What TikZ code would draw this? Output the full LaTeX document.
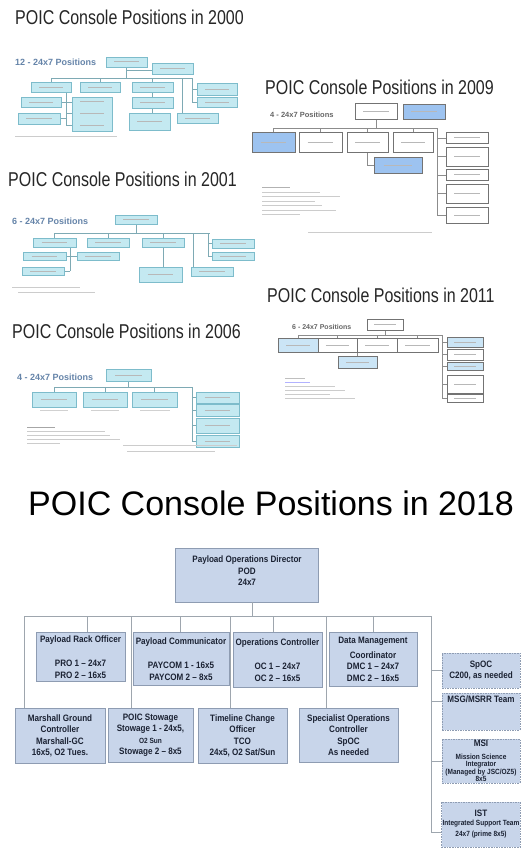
\documentclass[tikz,border=0pt]{standalone}
\usepackage{fontspec}
\setmainfont{Liberation Sans}
\newfontfamily\slidefont[FakeStretch=0.8]{Liberation Sans}
\newfontfamily\narrowfont[FakeStretch=0.87]{Liberation Sans}
\usetikzlibrary{calc}
\definecolor{boxfill}{HTML}{C8D5EA}
\definecolor{boxline}{HTML}{8E9CB2}
\definecolor{boxtext}{HTML}{1B2233}
\definecolor{wirecol}{HTML}{9EA6AE}
\definecolor{thumbfill}{HTML}{C4E9F1}
\definecolor{thumbline}{HTML}{7DBCCB}
\definecolor{blue09}{HTML}{9DC3F0}
\definecolor{blue11}{HTML}{CBE5F6}
\definecolor{postext}{HTML}{6584A9}
\newcommand{\minorsize}{\fontsize{7.5}{7.5}\selectfont}
\tikzset{
  slide/.style={anchor=base west, inner sep=0, text=black!85, font=\slidefont\fontsize{20}{20}\selectfont},
  headline/.style={anchor=base west, inner sep=0, text=black, font=\fontsize{34}{34}\selectfont},
  shifts/.style={anchor=west, inner sep=0, text=postext, font=\bfseries\fontsize{9}{9}\selectfont},
  shiftsgray/.style={anchor=west, inner sep=0, text=black!60, font=\bfseries\fontsize{7.5}{7.5}\selectfont},
  smudge/.style={draw=black!28, line width=1pt},
  blurtext/.style={path picture={\draw[smudge] ($(path picture bounding box.west)!0.2!(path picture bounding box.east)$) -- ($(path picture bounding box.west)!0.8!(path picture bounding box.east)$);}},
  thumb/.style={draw=thumbline, fill=thumbfill, line width=0.4pt, blurtext},
  oldwhite/.style={draw=black!55, fill=white, line width=0.4pt, blurtext},
  oldblue/.style={oldwhite, fill=blue09},
  paleblue/.style={oldwhite, fill=blue11},
  twire/.style={draw=thumbline!70!gray, line width=0.4pt},
  gwire/.style={draw=black!45, line width=0.4pt},
  box/.style={draw=boxline, line width=0.8pt, fill=boxfill, text=boxtext, align=center, anchor=north, inner sep=1pt, font=\narrowfont\bfseries\fontsize{9.3}{11.5}\selectfont},
  sidebox/.style={box, anchor=center, dash pattern=on 1.6pt off 1pt, minimum width=78},
  wire/.style={draw=wirecol, line width=0.6pt}
}
\begin{document}
\begin{tikzpicture}[x=1pt,y=-1pt]
\useasboundingbox (0,0) rectangle (526,859);
\fill[white] (0,0) rectangle (526,859);

%%% 2000
\node[slide] (t2000) at (15,25) {POIC Console Positions in 2000};
\node[shifts] (p2000) at (15,62) {12 - 24x7 Positions};
\draw[twire] (126.5,67) -- (126.5,78) (126.5,70) -- (152,70);
\draw[twire] (51,78) -- (192,78);
\draw[twire] (51,78) -- (51,82) (100,78) -- (100,82) (152.5,78) -- (152.5,82);
\draw[twire] (182,78) -- (182,113);
\draw[twire] (192,78) -- (192,102) (192,89) -- (197,89) (192,102) -- (197,102);
\draw[twire] (66,92) -- (66,125) (61,102) -- (72,102) (60,118) -- (66,118) (66,113) -- (72,113) (66,125) -- (72,125);
\draw[twire] (152.5,92) -- (152.5,113);
\draw[thumb] (106,57) rectangle (147,67);
\draw[thumb] (152,63) rectangle (193,74);
\draw[thumb] (31,82) rectangle (71,92);
\draw[thumb] (80,82) rectangle (120,92);
\draw[thumb] (132,82) rectangle (173,92);
\draw[thumb] (197,83) rectangle (237,95);
\draw[thumb] (197,97) rectangle (237,107);
\draw[thumb] (21,97) rectangle (61,107);
\draw[thumb] (18,113) rectangle (60,124);
\draw[thumb, path picture={}] (72,97) rectangle (112,131);
\draw[smudge] (80,101) -- (104,101) (80,113) -- (104,113) (80,125) -- (104,125);
\draw[thumb] (132,97) rectangle (173,108);
\draw[thumb] (129,113) rectangle (170,130);
\draw[thumb] (177,113) rectangle (218,123);
\draw[smudge, black!20] (15,136) -- (117,136);

%%% 2001
\node[slide] (t2001) at (8,186) {POIC Console Positions in 2001};
\node[shifts] (p2001) at (12,221) {6 - 24x7 Positions};
\draw[twire] (136,224) -- (136,233);
\draw[twire] (54.5,233) -- (210,233);
\draw[twire] (54.5,233) -- (54.5,238) (108,233) -- (108,238) (163,233) -- (163,238);
\draw[twire] (193,233) -- (193,267);
\draw[twire] (208,233) -- (208,256) (208,243) -- (212,243) (208,256) -- (212,256);
\draw[twire] (70,247) -- (70,271) (66,256) -- (77,256) (64,271) -- (70,271);
\draw[twire] (163,247) -- (163,267);
\draw[thumb] (115,215) rectangle (157,224);
\draw[thumb] (33,238) rectangle (76,247);
\draw[thumb] (87,238) rectangle (129,247);
\draw[thumb] (142,238) rectangle (184,247);
\draw[thumb] (212,239) rectangle (254,248);
\draw[thumb] (212,252) rectangle (254,260);
\draw[thumb] (23,252) rectangle (66,260);
\draw[thumb] (22,267) rectangle (64,275);
\draw[thumb] (77,252) rectangle (119,260);
\draw[thumb] (139,267) rectangle (182,282);
\draw[thumb] (191,267) rectangle (233,276);
\draw[smudge, black!20] (12,287) -- (80,287) (18,292) -- (95,292);

%%% 2006
\node[slide] (t2006) at (12,338) {POIC Console Positions in 2006};
\node[shifts] (p2006) at (17,377) {4 - 24x7 Positions};
\draw[twire] (128.5,381) -- (128.5,387);
\draw[twire] (54,387) -- (192,387);
\draw[twire] (54,387) -- (54,392) (105,387) -- (105,392) (154.5,387) -- (154.5,392);
\draw[twire] (192,387) -- (192,441);
\foreach \y in {397,410,425,441} \draw[twire] (192,\y) -- (196,\y);
\draw[thumb] (106,369) rectangle (151,381);
\draw[thumb] (32,392) rectangle (76,407);
\draw[thumb] (83,392) rectangle (127,407);
\draw[thumb] (132,392) rectangle (177,407);
\draw[thumb] (196,392) rectangle (239,403);
\draw[thumb] (196,404) rectangle (239,416);
\draw[thumb] (196,418) rectangle (239,433);
\draw[thumb] (196,435) rectangle (239,447);
\draw[smudge, black!18] (40,410) -- (68,410) (91,410) -- (119,410) (140,410) -- (170,410);
\draw[smudge, black!35] (27,427) -- (55,427);
\draw[smudge, black!20] (27,431) -- (105,431) (27,435) -- (110,435) (27,439) -- (120,439) (27,443) -- (60,443);
\draw[smudge, black!20] (123,445) -- (237,445) (127,451) -- (215,451);

%%% 2009
\node[slide] (t2009) at (265,94) {POIC Console Positions in 2009};
\node[shiftsgray] (p2009) at (270,115) {4 - 24x7 Positions};
\draw[gwire] (376,119) -- (376,128);
\draw[gwire] (273.5,128) -- (437,128);
\draw[gwire] (273.5,128) -- (273.5,132) (320.5,128) -- (320.5,132) (367.5,128) -- (367.5,132) (413,128) -- (413,132);
\draw[gwire] (367.5,152) |- (374,165);
\draw[gwire] (437,128) -- (437,215);
\foreach \y in {138,156,175,193,215} \draw[gwire] (437,\y) -- (446,\y);
\draw[oldwhite] (355,103) rectangle (397,119);
\draw[oldblue] (403,104) rectangle (445,119);
\draw[oldblue] (252,132) rectangle (295,152);
\draw[oldwhite] (299,132) rectangle (342,152);
\draw[oldwhite] (347,132) rectangle (388,152);
\draw[oldwhite] (393,132) rectangle (433,152);
\draw[oldblue] (374,157) rectangle (422,173);
\draw[oldwhite] (446,132) rectangle (488,143);
\draw[oldwhite] (446,147) rectangle (488,166);
\draw[oldwhite] (446,169) rectangle (488,180);
\draw[oldwhite] (446,184) rectangle (488,203);
\draw[oldwhite] (446,207) rectangle (488,223);
\draw[smudge, black!30] (262,187) -- (290,187);
\draw[smudge, black!20] (262,192) -- (320,192) (262,196.5) -- (340,196.5) (262,201) -- (315,201) (262,205.5) -- (322,205.5) (262,210) -- (336,210) (262,214.5) -- (300,214.5);
\draw[smudge, black!20] (308,232) -- (432,232);

%%% 2011
\node[slide] (t2011) at (267,302) {POIC Console Positions in 2011};
\node[shiftsgray, font=\bfseries\fontsize{7}{7}\selectfont] (p2011) at (292,327) {6 - 24x7 Positions};
\draw[gwire] (385,330) -- (385,335);
\draw[gwire] (298,335) -- (442,335);
\draw[gwire] (298,335) -- (298,338) (337.5,335) -- (337.5,338) (377,335) -- (377,338) (417.5,335) -- (417.5,338);
\draw[gwire] (357.5,352) -- (357.5,356);
\draw[gwire] (442,335) -- (442,398);
\foreach \y in {342,354,366,384,398} \draw[gwire] (442,\y) -- (447,\y);
\draw[oldwhite] (367,319) rectangle (403,330);
\draw[paleblue] (278,338) rectangle (318,352);
\draw[oldwhite] (318,338) rectangle (357,352);
\draw[oldwhite] (357,338) rectangle (397,352);
\draw[oldwhite] (397,338) rectangle (438,352);
\draw[paleblue] (338,356) rectangle (377,368);
\draw[paleblue] (447,337) rectangle (483,347);
\draw[oldwhite] (447,349) rectangle (483,360);
\draw[paleblue] (447,362) rectangle (483,370);
\draw[oldwhite] (447,375) rectangle (483,393);
\draw[oldwhite] (447,394) rectangle (483,402);
\draw[smudge, black!25] (285,378) -- (305,378);
\draw[smudge, blue!30] (285,382) -- (310,382);
\draw[smudge, black!20] (285,386) -- (335,386) (285,390) -- (345,390) (285,394) -- (330,394) (285,398) -- (355,398);

%%% 2018
\node[headline] (t2018) at (28,515) {POIC Console Positions in 2018};

\node[box, anchor=center, minimum width=143, minimum height=54] (pod) at (247,575) {Payload Operations Director\\POD\\24x7\\[-3pt]\mbox{}};

\node[box, minimum width=89, minimum height=49] (pro) at (80.5,632) {Payload Rack Officer\\[13pt]PRO 1 – 24x7\\PRO 2 – 16x5};
\node[box, minimum width=96, minimum height=53] (paycom) at (181,632) {Payload Communicator\\[13pt]PAYCOM 1 - 16x5\\PAYCOM 2 – 8x5};
\node[box, minimum width=89, minimum height=55] (oc) at (277.5,632) {Operations Controller\\[13pt]OC 1 – 24x7\\OC 2 – 16x5};
\node[box, minimum width=88, minimum height=54] (dmc) at (373,632) {Data Management\\[3pt]Coordinator\\DMC 1 – 24x7\\DMC 2 – 16x5};

\node[box, minimum width=90, minimum height=55] (mgc) at (60,708) {Marshall Ground\\Controller\\Marshall-GC\\16x5, O2 Tues.};
\node[box, minimum width=85, minimum height=54] (stow) at (150.5,708) {POIC Stowage\\Stowage 1 - 24x5,\\{\minorsize O2 Sun}\\Stowage 2 – 8x5};
\node[box, minimum width=89, minimum height=55] (tco) at (242.5,708) {Timeline Change\\Officer\\TCO\\24x5, O2 Sat/Sun};
\node[box, minimum width=99, minimum height=54] (spoc) at (348.5,708) {Specialist Operations\\Controller\\SpOC\\As needed};

\node[sidebox, minimum height=35] (c200) at (481,670.5) {SpOC\\C200, as needed};
\node[sidebox, minimum height=37] (msg) at (481,711.5) {MSG/MSRR Team\\[10pt]\strut};
\node[sidebox, minimum height=44, font=\narrowfont\bfseries\minorsize] (msi) at (481,761) {{\fontsize{9.3}{9.3}\selectfont MSI}\\[5pt]Mission Science\\Integrator\\(Managed by JSC/OZ5)\\8x5};
\node[sidebox, minimum height=45, font=\narrowfont\bfseries\minorsize] (ist) at (481,824.5) {{\fontsize{9.3}{9.3}\selectfont IST}\\[1.5pt]Integrated Support Team\\[3.5pt]24x7 (prime 8x5)};

% bus
\coordinate (podbus) at (252,616);
\coordinate (busw) at (24,616);
\coordinate (buse) at (431,616);
\draw[wire] (pod.south -| podbus) -- (podbus);
\draw[wire] (busw) -- (buse);
\foreach \n/\x in {pro/87, paycom/180, oc/273, dmc/373, stow/131, tco/230, spoc/326}{
  \coordinate (\n-j) at (\x,616);
  \draw[wire] (\n-j) -- (\n-j |- \n.north);
}
\draw[wire] (busw) -- (busw |- mgc.north);

% side column
\coordinate (msg-in) at ([yshift=10.5pt]msg.west);
\coordinate (ist-in) at ([yshift=-7.5pt]ist.west);
\draw[wire] (buse) |- (ist-in);
\draw[wire] (buse |- c200.west) -- (c200.west);
\draw[wire] (buse |- msg-in) -- (msg-in);
\draw[wire] (buse |- msi.west) -- (msi.west);
\end{tikzpicture}
\end{document}
